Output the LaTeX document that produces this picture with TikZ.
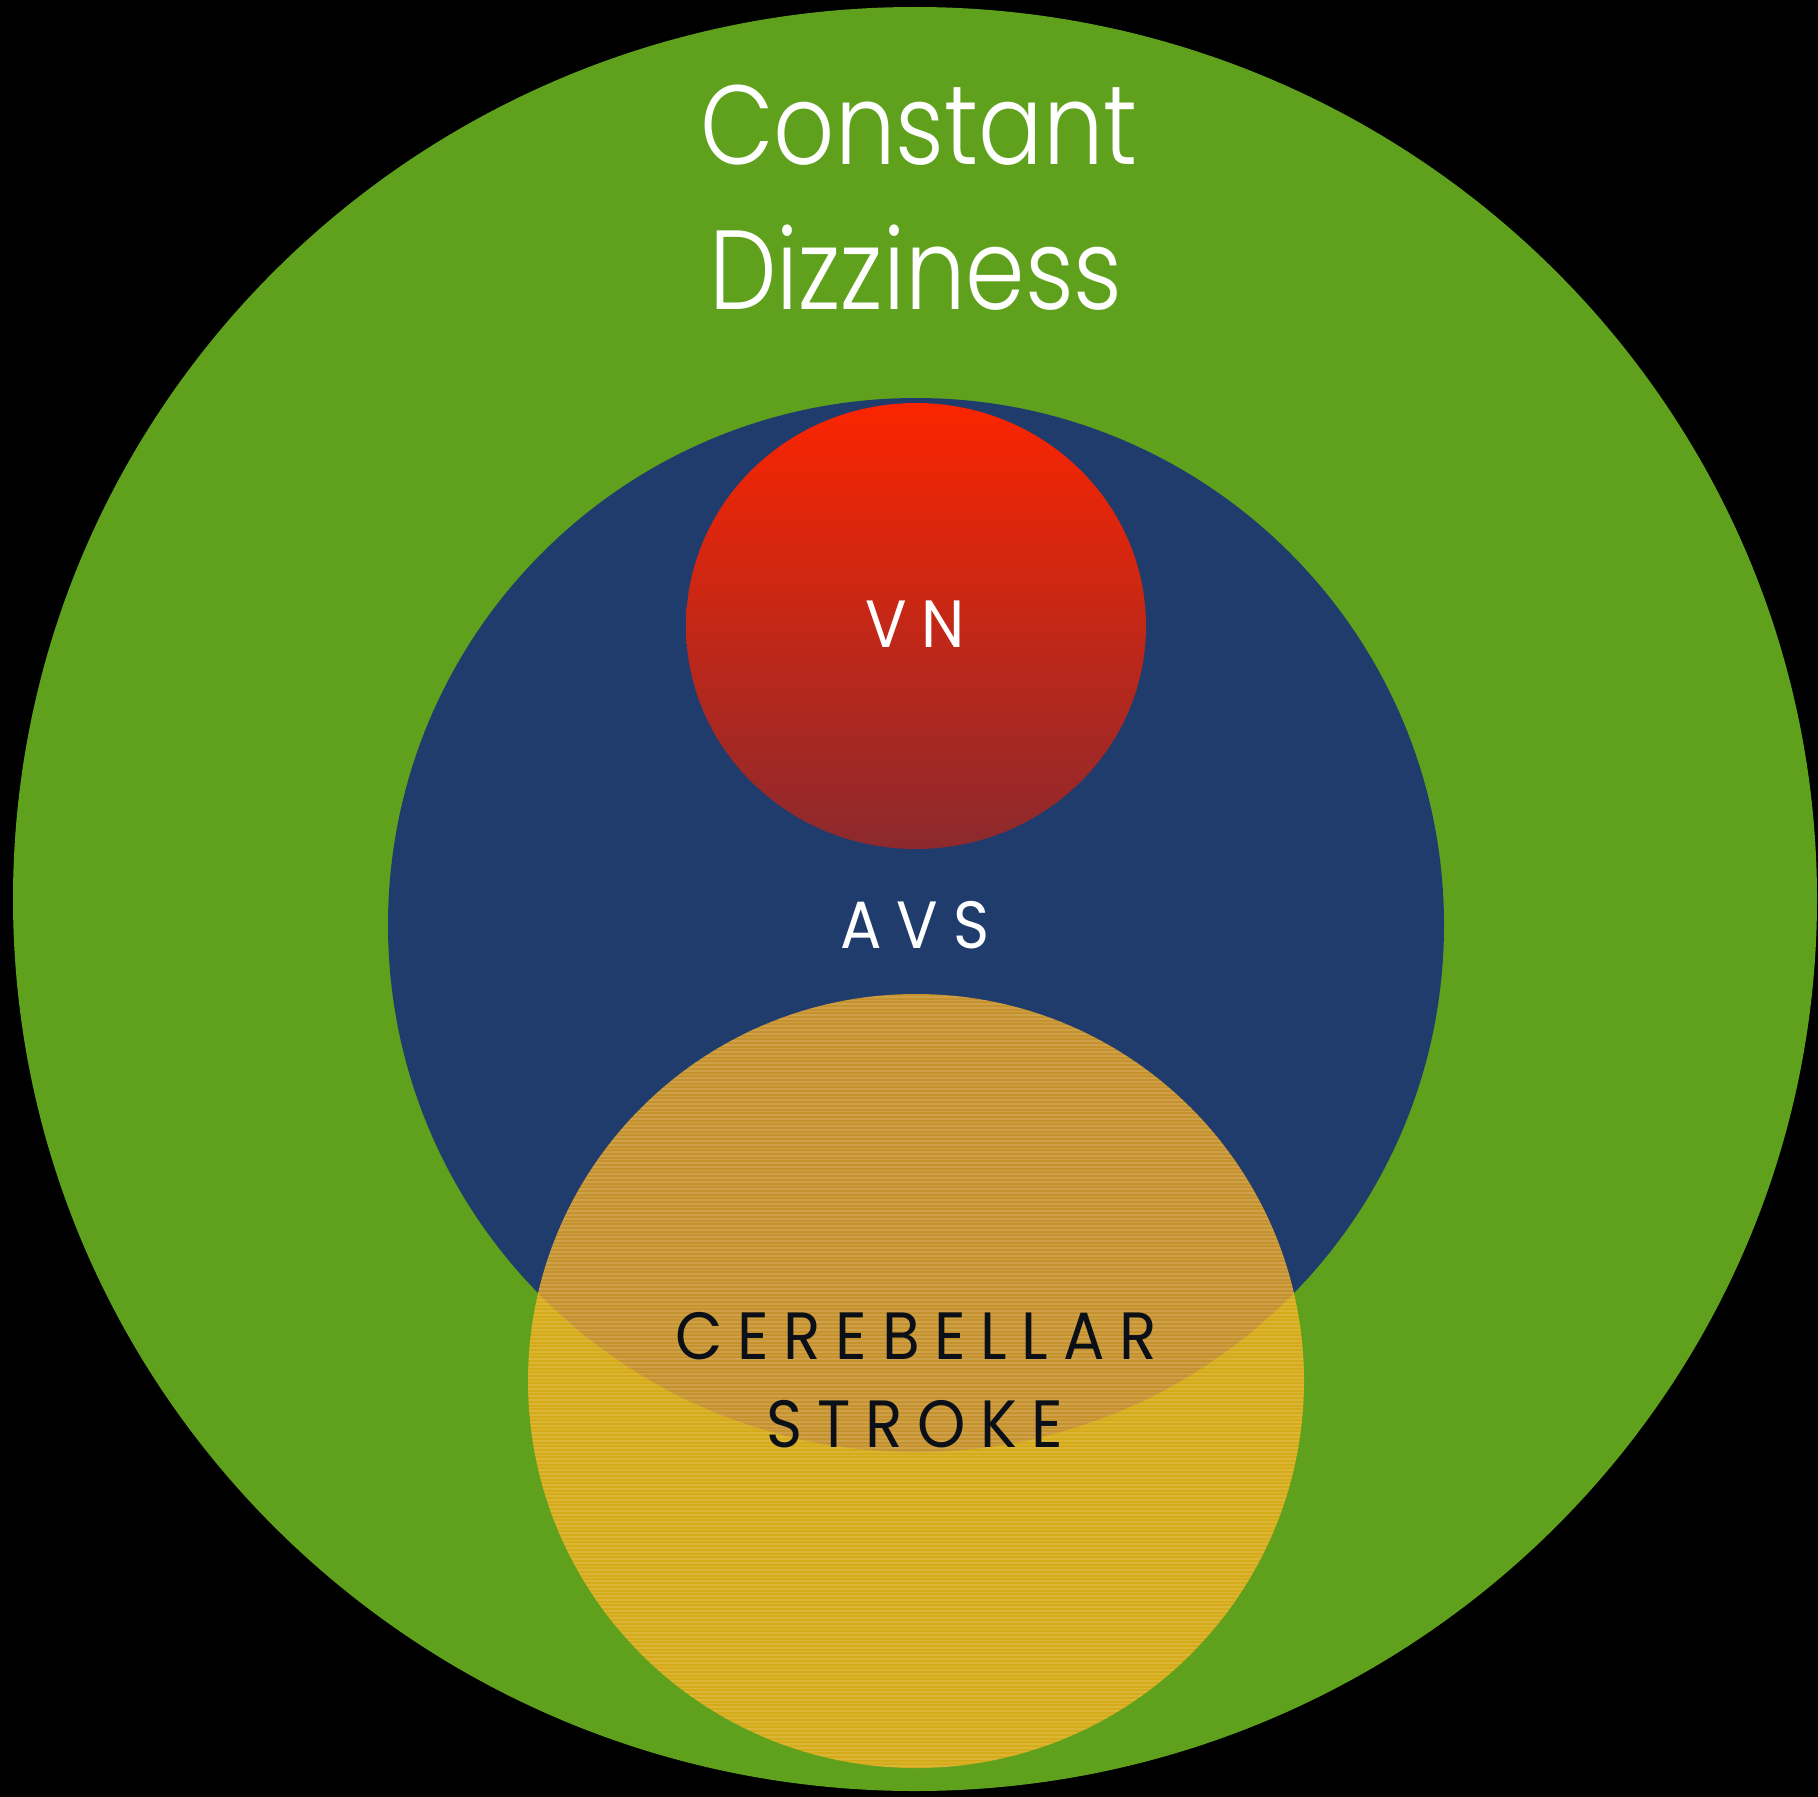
\documentclass[tikz,border=0pt]{standalone}
\usepackage{fontspec}
\setmainfont{Poppins}
\newfontfamily\thinfont{Poppins Light}[FakeStretch=0.85]
\newfontfamily\capsfont{Poppins}[LetterSpace=22, FakeStretch=0.92]
\usepackage{xcolor}
\definecolor{dizzygreen}{HTML}{5FA11C}
\definecolor{avsblue}{HTML}{1F3C6D}
\definecolor{vntop}{HTML}{FA2500}
\definecolor{vnbottom}{HTML}{8C292D}
\definecolor{strokegold}{HTML}{FFAF19}
\definecolor{labelink}{HTML}{0B1018}

\begin{document}
\begin{tikzpicture}[x=0.01cm, y=-0.01cm,
    title/.style={anchor=base, inner sep=0pt, text=white, font=\thinfont\fontsize{32}{38}\selectfont},
    caps/.style={anchor=base, inner sep=0pt, font=\capsfont\fontsize{19}{23}\selectfont}]
  \useasboundingbox (0,0) rectangle (1818,1797);
  \fill[black] (0,0) rectangle (1818,1797);
  \fill[dizzygreen] (915,899) ellipse [x radius=902, y radius=892];
  \fill[avsblue] (916,925) ellipse [x radius=528, y radius=527];
  \shade[top color=vntop, bottom color=vnbottom] (916,626) ellipse [x radius=230, y radius=223];
  \begin{scope}
    \clip (916,1381) ellipse [x radius=388, y radius=387];
    \fill[strokegold, opacity=0.75] (520,990) rectangle (1310,1772);
    \foreach \k in {0,...,212} { \draw[white, opacity=0.13, line width=0.5pt] (520,{993+\k*3.7}) -- (1310,{993+\k*3.7}); }
  \end{scope}
  \node[title] (constant) at (919,165) {Constant};
  \node[title] (dizziness) at (916,310) {Dizziness};
  \node[caps, text=white] (vn) at (915,647) {VN};
  \node[caps, text=white] (avs) at (915,948) {AVS};
  \node[caps, text=labelink] (cerebellar) at (916,1359) {CEREBELLAR};
  \node[caps, text=labelink] (strokelabel) at (915,1447) {STROKE};
\end{tikzpicture}
\end{document}
